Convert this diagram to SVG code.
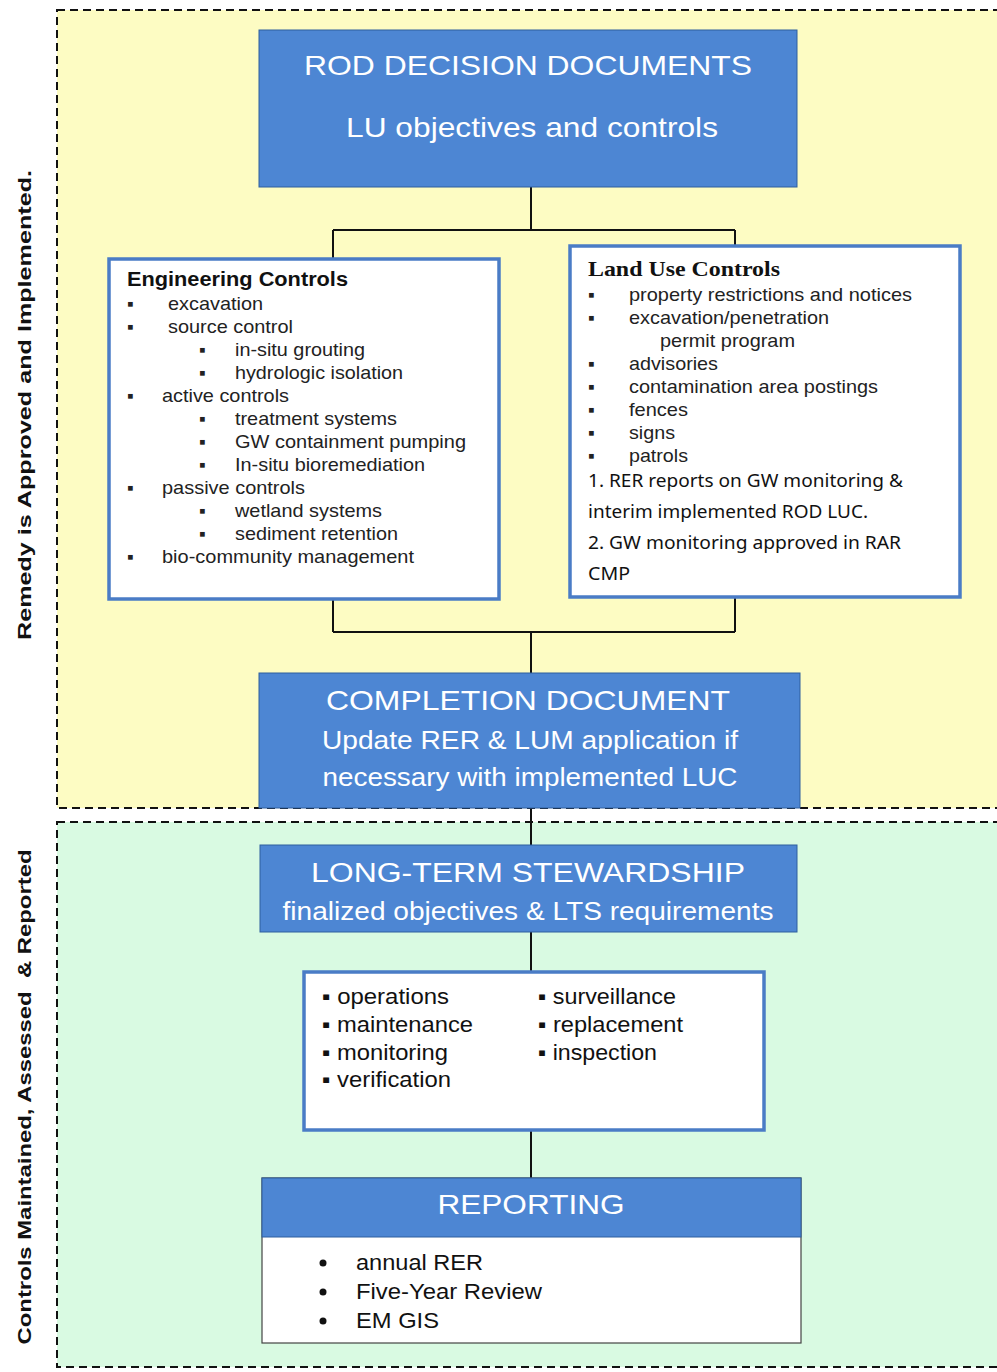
<svg xmlns="http://www.w3.org/2000/svg" width="997" height="1372" viewBox="0 0 997 1372">
<style>
.region{stroke:#111;stroke-width:2;stroke-dasharray:8,5}
.blue{fill:#4d86d3;stroke:#2f5f9e;stroke-width:1}
.wt{fill:#fff;font-family:"Liberation Sans",Arial,sans-serif}
.lbox{fill:#fff;stroke:#4a7cc6;stroke-width:3.5}
.t{font-family:"Liberation Sans",Arial,sans-serif;font-size:19px;fill:#222}
.side{font-family:"Liberation Sans",Arial,sans-serif;font-size:19px;font-weight:bold;fill:#111}
.conn{fill:none;stroke:#111;stroke-width:2}
.cal{font-family:"Noto Sans","Open Sans",sans-serif;font-size:17.5px;fill:#111}
</style>
<rect width="997" height="1372" fill="#fff"/>
<rect x="57" y="10" width="945" height="798" fill="#fdfcc3" class="region"/>
<rect x="57" y="822" width="945" height="545" fill="#d9fae2" class="region"/>
<text class="side" transform="translate(31,405) rotate(-90)" text-anchor="middle" textLength="470" lengthAdjust="spacingAndGlyphs">Remedy is Approved and Implemented.</text>
<text class="side" transform="translate(31,1097) rotate(-90)" text-anchor="middle" textLength="495" lengthAdjust="spacingAndGlyphs" xml:space="preserve">Controls Maintained, Assessed  &amp; Reported</text>
<g id="connectors">
<path class="conn" d="M531,187 V230 M333,230 H735 M333,230 V258 M735,230 V245"/>
<path class="conn" d="M333,599 V632 M735,597 V632 M333,632 H735 M531,632 V673"/>
<path class="conn" d="M531,808 V845"/>
<path class="conn" d="M531,932 V971"/>
<path class="conn" d="M531,1130 V1178"/>
</g>
<g id="rod">
<rect class="blue" x="259" y="30" width="538" height="157"/>
<text class="wt" x="528" y="75" font-size="28" text-anchor="middle" textLength="448" lengthAdjust="spacingAndGlyphs">ROD DECISION DOCUMENTS</text>
<text class="wt" x="532" y="137" font-size="28" text-anchor="middle" textLength="372" lengthAdjust="spacingAndGlyphs">LU objectives and controls</text>
</g>
<g id="engineering">
<rect class="lbox" x="109" y="259" width="390" height="340"/>
<text x="127" y="286" font-family="Liberation Sans,Arial,sans-serif" font-size="20" font-weight="bold" fill="#111" textLength="221" lengthAdjust="spacingAndGlyphs">Engineering Controls</text>
<g class="t">
<text x="127" y="310">▪</text><text x="168" y="310" textLength="95" lengthAdjust="spacingAndGlyphs">excavation</text>
<text x="127" y="333">▪</text><text x="168" y="333" textLength="125" lengthAdjust="spacingAndGlyphs">source control</text>
<text x="199" y="356">▪</text><text x="235" y="356" textLength="130" lengthAdjust="spacingAndGlyphs">in-situ grouting</text>
<text x="199" y="379">▪</text><text x="235" y="379" textLength="168" lengthAdjust="spacingAndGlyphs">hydrologic isolation</text>
<text x="127" y="402">▪</text><text x="162" y="402" textLength="127" lengthAdjust="spacingAndGlyphs">active controls</text>
<text x="199" y="425">▪</text><text x="235" y="425" textLength="162" lengthAdjust="spacingAndGlyphs">treatment systems</text>
<text x="199" y="448">▪</text><text x="235" y="448" textLength="231" lengthAdjust="spacingAndGlyphs">GW containment pumping</text>
<text x="199" y="471">▪</text><text x="235" y="471" textLength="190" lengthAdjust="spacingAndGlyphs">In-situ bioremediation</text>
<text x="127" y="494">▪</text><text x="162" y="494" textLength="143" lengthAdjust="spacingAndGlyphs">passive controls</text>
<text x="199" y="517">▪</text><text x="235" y="517" textLength="147" lengthAdjust="spacingAndGlyphs">wetland systems</text>
<text x="199" y="540">▪</text><text x="235" y="540" textLength="163" lengthAdjust="spacingAndGlyphs">sediment retention</text>
<text x="127" y="563">▪</text><text x="162" y="563" textLength="252" lengthAdjust="spacingAndGlyphs">bio-community management</text>
</g>
</g>
<g id="landuse">
<rect class="lbox" x="570" y="246" width="390" height="351"/>
<text x="588" y="276" font-family="Liberation Serif,Times New Roman,serif" font-size="21" font-weight="bold" fill="#111" textLength="192" lengthAdjust="spacingAndGlyphs">Land Use Controls</text>
<g class="t">
<text x="588" y="301">▪</text><text x="629" y="301" textLength="283" lengthAdjust="spacingAndGlyphs">property restrictions and notices</text>
<text x="588" y="324">▪</text><text x="629" y="324" textLength="200" lengthAdjust="spacingAndGlyphs">excavation/penetration</text>
<text x="660" y="347" textLength="135" lengthAdjust="spacingAndGlyphs">permit program</text>
<text x="588" y="370">▪</text><text x="629" y="370" textLength="89" lengthAdjust="spacingAndGlyphs">advisories</text>
<text x="588" y="393">▪</text><text x="629" y="393" textLength="249" lengthAdjust="spacingAndGlyphs">contamination area postings</text>
<text x="588" y="416">▪</text><text x="629" y="416" textLength="59" lengthAdjust="spacingAndGlyphs">fences</text>
<text x="588" y="439">▪</text><text x="629" y="439" textLength="46" lengthAdjust="spacingAndGlyphs">signs</text>
<text x="588" y="462">▪</text><text x="629" y="462" textLength="59" lengthAdjust="spacingAndGlyphs">patrols</text>
</g>
<g class="cal">
<text x="588" y="487" textLength="315" lengthAdjust="spacingAndGlyphs">1. RER reports on GW monitoring &amp;</text>
<text x="588" y="518" textLength="280" lengthAdjust="spacingAndGlyphs">interim implemented ROD LUC.</text>
<text x="588" y="549" textLength="313" lengthAdjust="spacingAndGlyphs">2. GW monitoring approved in RAR</text>
<text x="588" y="580" textLength="42" lengthAdjust="spacingAndGlyphs">CMP</text>
</g>
</g>
<g id="completion">
<rect class="blue" x="259" y="673" width="541" height="135"/>
<text class="wt" x="528" y="710" font-size="28" text-anchor="middle" textLength="404" lengthAdjust="spacingAndGlyphs">COMPLETION DOCUMENT</text>
<text class="wt" x="530" y="749" font-size="26" text-anchor="middle" textLength="416" lengthAdjust="spacingAndGlyphs">Update RER &amp; LUM application if</text>
<text class="wt" x="530" y="786" font-size="26" text-anchor="middle" textLength="415" lengthAdjust="spacingAndGlyphs">necessary with implemented LUC</text>
</g>
<g id="lts">
<rect class="blue" x="260" y="845" width="537" height="87"/>
<text class="wt" x="528" y="882" font-size="27" text-anchor="middle" textLength="434" lengthAdjust="spacingAndGlyphs">LONG-TERM STEWARDSHIP</text>
<text class="wt" x="528" y="920" font-size="25" text-anchor="middle" textLength="491" lengthAdjust="spacingAndGlyphs">finalized objectives &amp; LTS requirements</text>
</g>
<g id="activities">
<rect class="lbox" x="304" y="972" width="460" height="158"/>
<g font-family="Liberation Sans,Arial,sans-serif" font-size="22" fill="#111">
<text x="322" y="1004" textLength="127" lengthAdjust="spacingAndGlyphs">▪ operations</text>
<text x="322" y="1032" textLength="151" lengthAdjust="spacingAndGlyphs">▪ maintenance</text>
<text x="322" y="1060" textLength="126" lengthAdjust="spacingAndGlyphs">▪ monitoring</text>
<text x="322" y="1087" textLength="129" lengthAdjust="spacingAndGlyphs">▪ verification</text>
<text x="538" y="1004" textLength="138" lengthAdjust="spacingAndGlyphs">▪ surveillance</text>
<text x="538" y="1032" textLength="145" lengthAdjust="spacingAndGlyphs">▪ replacement</text>
<text x="538" y="1060" textLength="119" lengthAdjust="spacingAndGlyphs">▪ inspection</text>
</g>
</g>
<g id="reporting">
<rect x="262" y="1178" width="539" height="165" fill="#fff" stroke="#444" stroke-width="1.2"/>
<rect class="blue" x="262" y="1178" width="539" height="59"/>
<text class="wt" x="531" y="1214" font-size="28" text-anchor="middle" textLength="187" lengthAdjust="spacingAndGlyphs">REPORTING</text>
<g font-family="Liberation Sans,Arial,sans-serif" font-size="22" fill="#111">
<circle cx="323" cy="1263" r="3.5"/><text x="356" y="1270" textLength="127" lengthAdjust="spacingAndGlyphs">annual RER</text>
<circle cx="323" cy="1292" r="3.5"/><text x="356" y="1299" textLength="186" lengthAdjust="spacingAndGlyphs">Five-Year Review</text>
<circle cx="323" cy="1321" r="3.5"/><text x="356" y="1328" textLength="83" lengthAdjust="spacingAndGlyphs">EM GIS</text>
</g>
</g>
</svg>
